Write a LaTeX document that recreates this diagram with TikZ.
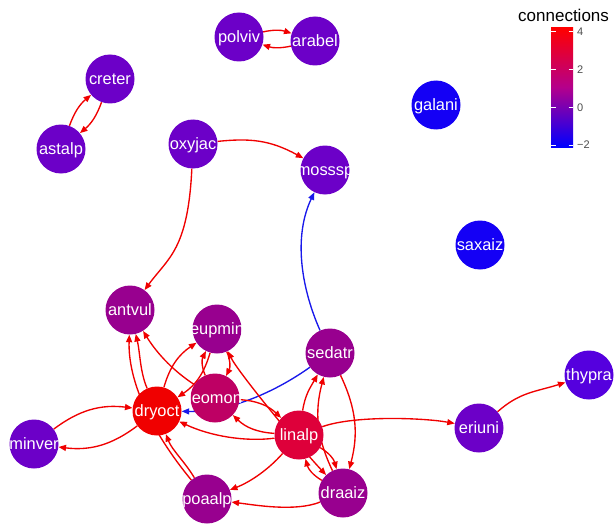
\documentclass[tikz,border=0pt]{standalone}
\usepackage{fontspec}
\setmainfont{Liberation Sans}
\usetikzlibrary{arrows.meta}
\pgfdeclarelayer{bg}
\pgfsetlayers{bg,main}
\definecolor{eRed}{RGB}{240,0,0}
\definecolor{eBlue}{RGB}{25,25,235}
\definecolor{vDry}{RGB}{240,0,0}
\definecolor{vLin}{RGB}{222,0,58}
\definecolor{vLeo}{RGB}{190,0,100}
\definecolor{vMag}{RGB}{152,0,143}
\definecolor{vPur}{RGB}{108,0,200}
\definecolor{vThy}{RGB}{85,0,222}
\definecolor{vBlu}{RGB}{20,0,245}
\definecolor{tickgray}{RGB}{77,77,77}
\definecolor{scMid}{RGB}{180,0,140}
\begin{document}
\begin{tikzpicture}[x=1pt,y=-1pt,
  vert/.style={circle, minimum size=49pt, inner sep=0pt, fill=#1, text=white,
    font=\fontsize{16.4}{18}\selectfont, text height=14pt, text depth=3pt},
  tip/.style={-{Triangle[length=7.5pt,width=6pt]}},
  rlink/.style={draw=eRed, line width=1.35pt, tip},
  blink/.style={rlink, draw=eBlue},
  both/.style={{Triangle[length=7.5pt,width=6pt]}-{Triangle[length=7.5pt,width=6pt]}},
  ticklab/.style={anchor=west, inner sep=0pt, text=tickgray, font=\fontsize{11}{12}\selectfont}]
\useasboundingbox (0,0) rectangle (615,524);

% vertices
\node[vert=vPur] (polviv) at (239,37)  {\makebox[0pt]{polviv}};
\node[vert=vPur] (arabel) at (315,41)  {\makebox[0pt]{arabel}};
\node[vert=vPur] (creter) at (110,79)  {\makebox[0pt]{creter}};
\node[vert=vPur] (astalp) at (61,149)  {\makebox[0pt]{astalp}};
\node[vert=vPur] (oxyjac) at (193,144) {\makebox[0pt]{oxyjac}};
\node[vert=vPur] (mosssp) at (325,170) {\makebox[0pt]{mosssp}};
\node[vert=vBlu] (galani) at (436,105) {\makebox[0pt]{galani}};
\node[vert=vBlu] (saxaiz) at (480,245) {\makebox[0pt]{saxaiz}};
\node[vert=vMag] (antvul) at (130,310) {\makebox[0pt]{antvul}};
\node[vert=vMag] (eupmin) at (217,329) {\makebox[0pt]{eupmin}};
\node[vert=vMag] (sedatr) at (330,353) {\makebox[0pt]{sedatr}};
\node[vert=vLeo] (leomon) at (215,398) {\makebox[0pt]{leomon}};
\node[vert=vDry] (dryoct) at (157,411) {\makebox[0pt]{dryoct}};
\node[vert=vLin] (linalp) at (299,435) {\makebox[0pt]{linalp}};
\node[vert=vPur] (eriuni) at (479,428) {\makebox[0pt]{eriuni}};
\node[vert=vThy] (thypra) at (589,375) {\makebox[0pt]{thypra}};
\node[vert=vPur] (minver) at (34,444)  {\makebox[0pt]{minver}};
\node[vert=vMag] (poaalp) at (207,499) {\makebox[0pt]{poaalp}};
\node[vert=vMag] (draaiz) at (343,493) {\makebox[0pt]{draaiz}};

% links, kept underneath the vertices
\begin{pgfonlayer}{bg}
\fill[white] (0,0) rectangle (615,524);
\draw[rlink] (polviv) to[bend left=15] (arabel);
\draw[rlink] (arabel) to[bend left=15] (polviv);
\draw[rlink] (creter) to[bend left=15] (astalp);
\draw[rlink] (astalp) to[bend left=15] (creter);
\draw[rlink] (oxyjac) .. controls (250,138) and (270,140) .. (mosssp);
\draw[rlink] (oxyjac) .. controls (188,250) and (168,258) .. (antvul);
\draw[blink] (sedatr) .. controls (300,285) and (294,235) .. (mosssp);
\draw[blink] (sedatr) .. controls (275,392) and (230,412) .. (dryoct);
\draw[rlink] (eriuni) .. controls (520,392) and (535,392) .. (thypra);
\draw[rlink] (linalp) .. controls (355,415) and (425,418) .. (eriuni);
\draw[rlink] (linalp) .. controls (245,442) and (210,436) .. (dryoct);
\draw[rlink] (linalp) to[bend left=20] (leomon);
\draw[rlink] (leomon) to[bend left=20] (linalp);
\draw[rlink] (leomon) to[bend left=25] (eupmin);
\draw[rlink] (eupmin) to[bend left=25] (leomon);
\draw[rlink] (dryoct) to[bend left=20] (eupmin);
\draw[rlink] (eupmin) to[bend left=20] (dryoct);
\draw[rlink, both] (eupmin) .. controls (238,372) and (298,445) .. (draaiz);
\draw[rlink] (sedatr) to[bend left=20] (draaiz);
\draw[rlink] (draaiz) to[bend left=20] (sedatr);
\draw[rlink] (linalp) .. controls (305,395) and (310,388) .. (sedatr);
\draw[rlink] (linalp) to[bend left=22] (draaiz);
\draw[rlink] (draaiz) to[bend left=22] (linalp);
\draw[rlink] (linalp) .. controls (268,470) and (250,482) .. (poaalp);
\draw[rlink] (draaiz) .. controls (295,512) and (255,505) .. (poaalp);
\draw[rlink] (poaalp) .. controls (185,462) and (172,450) .. (dryoct);
\draw[rlink] (poaalp) .. controls (150,430) and (128,380) .. (antvul);
\draw[rlink] (dryoct) .. controls (140,372) and (140,352) .. (antvul);
\draw[rlink] (leomon) .. controls (175,372) and (158,355) .. (antvul);
\draw[rlink] (minver) to[bend left=22] (dryoct);
\draw[rlink] (dryoct) to[bend left=22] (minver);
\end{pgfonlayer}

% colour scale
\node[anchor=base west, inner sep=0pt, font=\fontsize{17}{18}\selectfont] (sctitle) at (518,22) {connections};
\shade[top color=red, bottom color=blue, middle color=scMid] (551,28) rectangle (573,147);
\foreach \yy in {31.7,69.5,107.3,145} {
  \draw[white, line width=0.6pt] (551,\yy) -- (555.5,\yy) (568.5,\yy) -- (573,\yy);
}
\node[ticklab] (tfour) at (577,31.7) {4};
\node[ticklab] (ttwo) at (577,69.5) {2};
\node[ticklab] (tzero) at (577,107.3) {0};
\node[ticklab] (tmtwo) at (577,145) {−2};
\end{tikzpicture}
\end{document}
